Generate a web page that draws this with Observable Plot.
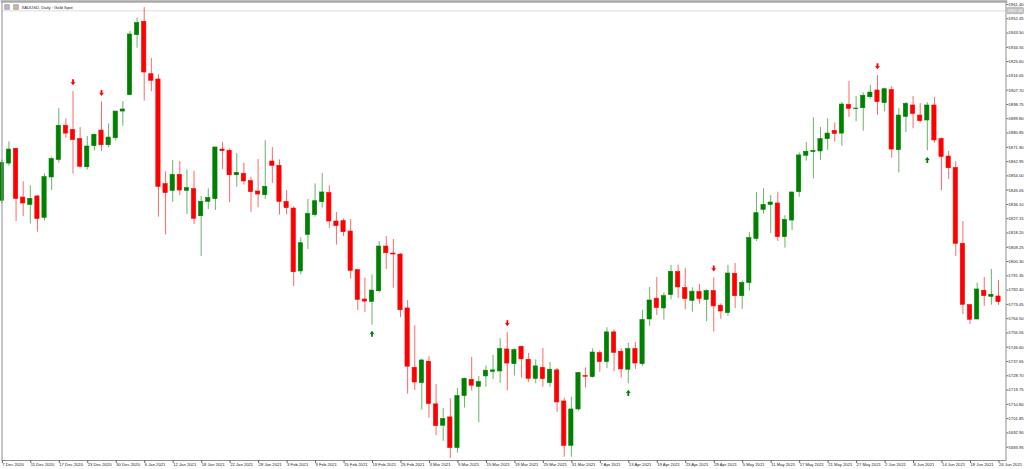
<!DOCTYPE html>
<html>
<head>
<meta charset="utf-8">
<script src="https://cdn.jsdelivr.net/npm/d3@7"></script>
<script src="https://cdn.jsdelivr.net/npm/@observablehq/plot@0.6"></script>
<style>html,body{margin:0;padding:0;background:#fff;overflow:hidden}svg{display:block}</style>
</head>
<body>
<div id="chart"></div>
<script>
const chartTitle = "XAUUSD, Daily : Gold Spot";
const currentPrice = 1957.43;
const dateLabels = ["7 Dec 2020","11 Dec 2020","17 Dec 2020","23 Dec 2020","30 Dec 2020","6 Jan 2021","12 Jan 2021","18 Jan 2021","22 Jan 2021","28 Jan 2021","3 Feb 2021","9 Feb 2021","15 Feb 2021","19 Feb 2021","25 Feb 2021","3 Mar 2021","9 Mar 2021","15 Mar 2021","19 Mar 2021","25 Mar 2021","31 Mar 2021","7 Apr 2021","13 Apr 2021","19 Apr 2021","23 Apr 2021","29 Apr 2021","5 May 2021","11 May 2021","17 May 2021","21 May 2021","27 May 2021","2 Jun 2021","8 Jun 2021","14 Jun 2021","18 Jun 2021","24 Jun 2021"];
const priceTicks = [1961.40,1952.45,1943.50,1934.55,1925.60,1916.65,1907.70,1898.75,1889.80,1880.85,1871.90,1862.95,1854.00,1845.05,1836.10,1827.15,1818.20,1809.25,1800.30,1791.35,1782.40,1773.45,1764.50,1755.55,1746.60,1737.65,1728.70,1719.75,1710.80,1701.85,1692.90,1683.95];
const opens = [1838.4,1861.7,1870.9,1840.4,1835.8,1841.1,1827.7,1853.0,1864.0,1885.4,
1882.8,1877.0,1859.4,1872.6,1882.4,1873.2,1877.6,1894.3,1904.6,1942.2,
1950.5,1917.7,1914.4,1848.8,1844.6,1854.6,1844.6,1845.7,1828.7,1837.7,
1839.4,1870.5,1869.7,1854.4,1855.3,1850.7,1844.2,1841.9,1863.0,1860.3,
1837.7,1833.5,1794.1,1817.0,1829.4,1837.5,1843.2,1825.4,1825.6,1819.1,
1794.9,1776.5,1775.0,1781.7,1809.7,1805.3,1804.7,1770.9,1733.7,1724.1,
1737.5,1710.8,1697.4,1702.6,1683.4,1716.0,1726.2,1721.8,1728.3,1731.2,
1731.4,1745.2,1736.0,1746.9,1738.7,1726.8,1733.7,1724.1,1732.1,1712.6,
1684.8,1707.6,1728.5,1727.9,1742.9,1737.3,1755.9,1743.8,1732.5,1745.4,
1736.0,1764.0,1777.0,1770.9,1779.3,1793.7,1783.7,1775.7,1781.2,1776.3,
1781.8,1772.6,1768.0,1792.6,1778.6,1786.8,1814.5,1832.7,1835.8,1836.7,
1815.6,1826.0,1843.8,1866.6,1868.9,1869.3,1877.0,1882.2,1880.5,1898.5,
1895.8,1896.4,1903.3,1907.5,1899.6,1907.7,1870.1,1891.0,1898.1,1891.8,
1888.7,1898.1,1877.0,1866.1,1859.0,1811.4,1773.0,1764.0,1782.0,1778.2,1778.4];
const closes = [1862.2,1870.5,1839.6,1836.7,1839.6,1826.9,1853.2,1864.5,1885.4,1880.5,
1876.4,1859.7,1872.4,1879.7,1873.2,1878.0,1894.3,1895.6,1942.6,1949.7,
1918.8,1913.6,1847.1,1843.2,1854.6,1844.8,1846.3,1827.1,1837.7,1840.2,
1871.8,1869.5,1854.4,1855.9,1850.5,1843.8,1842.3,1847.1,1860.3,1837.7,
1833.8,1793.6,1811.8,1830.2,1838.1,1843.6,1825.4,1822.5,1818.7,1794.5,
1776.3,1775.2,1782.1,1809.7,1805.5,1804.7,1769.8,1734.4,1724.5,1738.3,
1711.0,1697.2,1701.6,1683.4,1716.0,1726.8,1722.5,1724.8,1731.9,1732.1,
1745.4,1736.4,1744.8,1739.0,1726.8,1734.6,1726.6,1732.5,1712.0,1684.8,
1707.6,1730.4,1728.1,1743.3,1737.3,1755.9,1743.1,1732.7,1745.4,1736.4,
1763.6,1775.9,1771.1,1778.6,1793.9,1784.1,1776.8,1781.4,1776.8,1781.8,
1772.2,1769.0,1792.8,1778.6,1786.8,1815.0,1830.6,1835.8,1837.3,1815.6,
1826.4,1843.6,1866.8,1869.1,1869.7,1877.0,1880.5,1880.3,1898.7,1896.0,
1896.2,1904.2,1906.2,1900.2,1908.3,1870.5,1891.8,1899.1,1892.9,1888.3,
1898.1,1876.2,1865.9,1858.8,1811.4,1773.2,1763.8,1782.8,1778.6,1779.5,1774.9];
const highs = [1864.0,1875.3,1870.9,1850.3,1847.8,1841.7,1855.3,1865.7,1896.2,1889.7,
1906.9,1884.3,1878.7,1880.3,1900.4,1886.6,1894.3,1900.6,1944.5,1953.0,
1959.5,1927.6,1917.3,1856.5,1863.6,1863.0,1857.8,1856.9,1841.1,1845.9,
1871.8,1874.9,1870.9,1868.0,1862.0,1853.2,1864.3,1876.0,1871.8,1864.0,
1844.8,1834.6,1815.2,1839.2,1849.0,1855.5,1847.8,1831.0,1827.0,1826.6,
1795.1,1789.9,1791.9,1812.8,1816.0,1814.1,1805.3,1775.9,1760.1,1739.2,
1740.8,1723.3,1708.2,1714.3,1720.8,1727.3,1740.2,1728.3,1734.8,1741.5,
1751.9,1755.9,1745.6,1746.9,1742.7,1738.7,1745.8,1737.1,1733.3,1714.7,
1715.3,1730.4,1733.7,1745.6,1744.2,1758.8,1757.5,1745.6,1749.2,1749.6,
1769.7,1784.1,1790.3,1780.7,1797.9,1798.1,1796.0,1783.9,1786.0,1782.6,
1790.1,1773.8,1797.9,1799.1,1788.0,1818.5,1843.6,1845.9,1841.7,1843.8,
1829.0,1843.6,1868.4,1874.9,1890.4,1884.3,1889.7,1887.2,1900.0,1913.1,
1903.7,1906.0,1910.8,1916.9,1909.0,1909.8,1896.2,1900.0,1903.7,1899.3,
1899.8,1903.1,1877.8,1869.3,1862.8,1825.4,1773.2,1786.8,1790.3,1795.3,1788.5];
const lows = [1836.5,1860.1,1825.4,1828.5,1823.9,1818.7,1825.6,1844.8,1862.0,1877.6,
1855.1,1858.8,1857.6,1869.5,1869.3,1871.6,1876.0,1885.1,1904.2,1934.0,
1900.8,1906.7,1828.1,1817.0,1837.5,1841.7,1829.8,1823.5,1803.5,1832.9,
1832.3,1858.0,1837.1,1846.9,1848.2,1831.2,1834.0,1839.2,1849.2,1829.4,
1829.6,1784.7,1792.0,1807.9,1828.1,1833.8,1821.2,1810.6,1816.0,1789.2,
1769.6,1768.3,1760.4,1780.5,1795.3,1783.6,1765.2,1717.2,1719.5,1707.2,
1702.0,1691.1,1687.6,1676.9,1680.3,1708.5,1719.1,1699.3,1721.6,1726.4,
1724.1,1719.3,1728.5,1727.3,1724.5,1723.7,1721.6,1721.6,1705.7,1677.7,
1677.7,1706.6,1721.0,1727.3,1730.8,1733.1,1731.2,1727.3,1723.7,1732.7,
1734.6,1759.6,1766.5,1763.6,1776.3,1777.2,1770.1,1768.6,1773.6,1762.6,
1756.1,1764.2,1765.9,1770.9,1770.3,1781.8,1812.9,1830.0,1817.9,1812.9,
1808.7,1819.8,1840.6,1863.2,1852.1,1863.6,1870.1,1875.1,1872.6,1890.6,
1887.9,1882.0,1902.1,1892.0,1894.1,1865.1,1855.9,1881.2,1883.5,1887.0,
1869.7,1874.5,1844.8,1851.7,1803.5,1767.1,1760.9,1763.8,1772.2,1773.0,1772.8];
const downArrowBars = [10,14,71,100,123];
const downArrowPrices = [1912.7,1906.0,1761.7,1796.0,1922.7];
const upArrowBars = [52,88,130];
const upArrowPrices = [1755.0,1718.0,1864.0];

const UP = "#008000", DOWN = "#ff0000", FONT = "'Liberation Sans',sans-serif", LABEL = 4.2;
const candles = opens.map((o,i)=>({i,o,h:highs[i],l:lows[i],c:closes[i],color:closes[i]>=o?UP:DOWN}));
const tickBars = dateLabels.map((_,k)=>k*4);
const arrowDown = {draw(c,s){const r=Math.sqrt(s)/2;c.moveTo(-r*.3,-r);c.lineTo(r*.3,-r);c.lineTo(r*.3,0);c.lineTo(r*.85,-r*.1);c.lineTo(0,r);c.lineTo(-r*.85,-r*.1);c.lineTo(-r*.3,0);c.closePath();}};
const arrowUp = {draw(c,s){const r=Math.sqrt(s)/2;c.moveTo(-r*.3,r);c.lineTo(r*.3,r);c.lineTo(r*.3,0);c.lineTo(r*.85,r*.1);c.lineTo(0,-r);c.lineTo(-r*.85,r*.1);c.lineTo(-r*.3,0);c.closePath();}};

const chart = Plot.plot({
  width:1024,height:469,marginTop:1,marginLeft:1.5,marginRight:18.5,marginBottom:9,
  style:{background:"#fff",fontFamily:FONT},
  x:{type:"linear",domain:[0,140],range:[1.33,998]},
  y:{type:"linear",domain:[priceTicks[priceTicks.length-1],priceTicks[0]],range:[446.7,4]},
  marks:[
    Plot.ruleY([currentPrice],{stroke:"#dcdcdc",strokeWidth:1}),
    Plot.ruleX(candles,{x:"i",y1:"l",y2:"h",stroke:"color",strokeWidth:0.6}),
    Plot.rect(candles,{x1:d=>d.i-0.3,x2:d=>d.i+0.3,y1:"o",y2:"c",fill:"color",stroke:"color",strokeWidth:0.6}),
    Plot.dot(downArrowBars.map((b,k)=>({b,p:downArrowPrices[k]})),{x:"b",y:"p",symbol:arrowDown,r:3.4,fill:DOWN,stroke:"none"}),
    Plot.dot(upArrowBars.map((b,k)=>({b,p:upArrowPrices[k]})),{x:"b",y:"p",symbol:arrowUp,r:3.4,fill:UP,stroke:"none"}),
    Plot.frame({stroke:"#909090",strokeWidth:1}),
    Plot.frame({anchor:"top",stroke:"#a8a8a8",strokeWidth:2.5}),
    Plot.axisY(priceTicks,{anchor:"right",tickSize:2,tickPadding:0.5,fontSize:LABEL,tickFormat:d=>d.toFixed(2),label:null,stroke:"#666",fill:"#222"}),
    Plot.axisX(tickBars,{anchor:"bottom",tickSize:3,tickPadding:-0.5,fontSize:LABEL,tickFormat:(d,k)=>dateLabels[k],textAnchor:"start",dx:0.5,label:null,stroke:"#666",fill:"#222"}),
    Plot.dot([0],{frameAnchor:"top-left",dx:5,dy:5.5,symbol:"square",r:2.6,fill:"#e8a8a8",stroke:"#7f9fd0",strokeWidth:0.8}),
    Plot.dot([0],{frameAnchor:"top-left",dx:14,dy:5.5,symbol:"square",r:2.6,fill:"#f0b070",stroke:"#7f9fd0",strokeWidth:0.8}),
    Plot.text([chartTitle],{frameAnchor:"top-left",dx:19.5,dy:4.2,fontSize:LABEL,lineAnchor:"top",fill:"#222"}),
    Plot.text([currentPrice.toFixed(2)],{x:140,y:currentPrice,dx:9,fontSize:LABEL,textAnchor:"start",fill:"#fff",stroke:"#c0c0c0",strokeWidth:4.5,paintOrder:"stroke"})
  ]
});
document.getElementById("chart").append(chart);
</script>
</body>
</html>
